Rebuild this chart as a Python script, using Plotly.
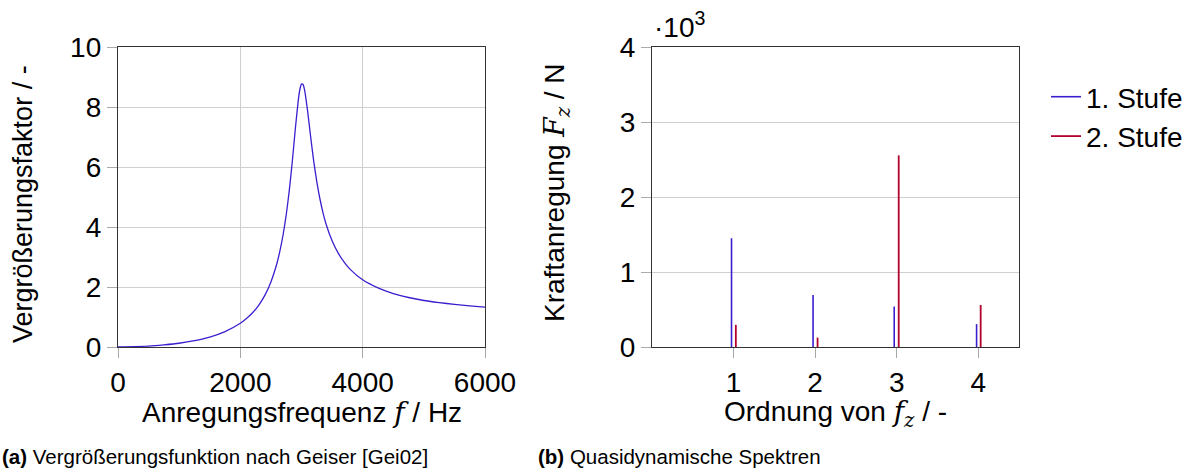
import plotly.graph_objects as go

# ---- data: (a) magnification function ----
freq_hz = [0, 500, 750, 1000, 1250, 1500, 1750, 2000, 2100, 2200, 2300, 2400,
           2500, 2600, 2650, 2700, 2750, 2800, 2850, 2900, 2950, 2975, 3000,
           3025, 3050, 3100, 3150, 3200, 3250, 3300, 3350, 3400, 3500, 3600,
           3700, 3800, 4000, 4250, 4500, 4750, 5000, 5250, 5500, 5750, 6000]
factor = [0, 0.03, 0.071, 0.125, 0.21, 0.33, 0.513, 0.79, 0.95, 1.14, 1.39, 1.72,
          2.17, 2.80, 3.23, 3.75, 4.40, 5.21, 6.19, 7.29, 8.27, 8.60, 8.77,
          8.75, 8.57, 7.86, 7.00, 6.19, 5.51, 4.95, 4.49, 4.11, 3.54, 3.13,
          2.82, 2.58, 2.24, 1.97, 1.78, 1.65, 1.55, 1.48, 1.42, 1.37, 1.33]

# ---- data: (b) quasi-dynamic spectra ----
order_ticks = [1, 2, 3, 4]
stage1_x = [0.975, 1.975, 2.97, 3.98]
stage1_F = [1450, 695, 540, 305]
stage2_x = [1.028, 2.03, 3.025, 4.03]
stage2_F = [295, 125, 2555, 560]
force_ticks = [0, 1000, 2000, 3000, 4000]
force_tick_text = ["0", "1", "2", "3", "4"]

W, H = 1195, 475
FONT = "Liberation Sans, Arial, Helvetica, sans-serif"
BLUE = "#3a1fce"
RED = "#b3002d"
GRID = "#cfcfcf"
TICK = "#aaaaaa"


def px_x(p):
    return p / W


def px_y(p):
    return (H - p) / H


def stems(xs, ys):
    sx, sy = [], []
    for x, y in zip(xs, ys):
        sx += [x, x, None]
        sy += [0, y, None]
    return sx, sy


fig = go.Figure()

fig.add_trace(go.Scatter(x=freq_hz, y=factor, mode="lines",
                         line=dict(color=BLUE, width=1.3, shape="spline", smoothing=0.5),
                         showlegend=False, xaxis="x", yaxis="y"))

s1x, s1y = stems(stage1_x, stage1_F)
s2x, s2y = stems(stage2_x, stage2_F)
fig.add_trace(go.Scatter(x=s1x, y=s1y, mode="lines", name="1. Stufe",
                         line=dict(color=BLUE, width=1.6), xaxis="x2", yaxis="y2"))
fig.add_trace(go.Scatter(x=s2x, y=s2y, mode="lines", name="2. Stufe",
                         line=dict(color=RED, width=1.8), xaxis="x2", yaxis="y2"))

axis_common = dict(showline=True, linecolor="#333333", linewidth=1.3, mirror=True,
                   ticks="outside", ticklen=10, tickcolor=TICK, tickwidth=1.3,
                   tickfont=dict(size=28, color="black", family=FONT),
                   zeroline=False, automargin=False)

ydom = [px_y(347), px_y(47)]
fig.update_layout(
    width=W, height=H,
    margin=dict(l=0, r=0, t=0, b=0, autoexpand=False),
    paper_bgcolor="white", plot_bgcolor="white",
    font=dict(family=FONT, color="black"),
    xaxis=dict(domain=[px_x(118), px_x(485)], range=[0, 6000],
               tickvals=[0, 2000, 4000, 6000], showgrid=True, gridcolor=GRID,
               gridwidth=1.2, anchor="y", **axis_common),
    yaxis=dict(domain=ydom, range=[0, 10], tickvals=[0, 2, 4, 6, 8, 10],
               showgrid=True, gridcolor=GRID, gridwidth=1.2, anchor="x", **axis_common),
    xaxis2=dict(domain=[px_x(652), px_x(1019)], range=[0, 4.5],
                tickvals=order_ticks, showgrid=False, anchor="y2", **axis_common),
    yaxis2=dict(domain=ydom, range=[0, 4000], tickvals=force_ticks,
                ticktext=force_tick_text, showgrid=True, gridcolor=GRID,
                gridwidth=1.2, anchor="x2", **axis_common),
    legend=dict(x=px_x(1046), y=px_y(72), xanchor="left", yanchor="top",
                font=dict(size=28, family=FONT, color="black"),
                bgcolor="rgba(0,0,0,0)", borderwidth=0, tracegroupgap=0,
                itemwidth=30),
)

MATH = "DejaVu Serif, Liberation Serif, serif"
ann = [
    dict(text="Anregungsfrequenz <span style='font-family:" + MATH + "'><i>f</i></span> / Hz",
         x=px_x(302), y=px_y(412), font_size=28),
    dict(text="Ordnung von <span style='font-family:" + MATH + "'><i>f<sub>z</sub></i></span> / -",
         x=px_x(835), y=px_y(413), font_size=28),
    dict(text="Vergrößerungsfaktor / -", x=px_x(23), y=px_y(204), textangle=-90,
         font_size=27),
    dict(text="Kraftanregung <span style='font-family:" + MATH + "'><i>F<sub>z</sub></i></span> / N",
         x=px_x(556), y=px_y(193), textangle=-90, font_size=28),
    dict(text="·10<sup>3</sup>", x=px_x(652), y=px_y(25), xanchor="left",
         font_size=28),
    dict(text="<b>(a)</b> Vergrößerungsfunktion nach Geiser [Gei02]",
         x=px_x(0), y=px_y(456), xanchor="left", font_size=20.5),
    dict(text="<b>(b)</b> Quasidynamische Spektren",
         x=px_x(536), y=px_y(456), xanchor="left", font_size=20.5),
]
for a in ann:
    fs = a.pop("font_size")
    a.setdefault("xanchor", "center")
    fig.add_annotation(xref="paper", yref="paper", showarrow=False,
                       yanchor="middle", font=dict(size=fs, family=FONT, color="black"),
                       **a)

fig.write_html("out.html", config={"displayModeBar": False},
               post_script="document.body.style.margin='0';document.body.style.padding='0';")
